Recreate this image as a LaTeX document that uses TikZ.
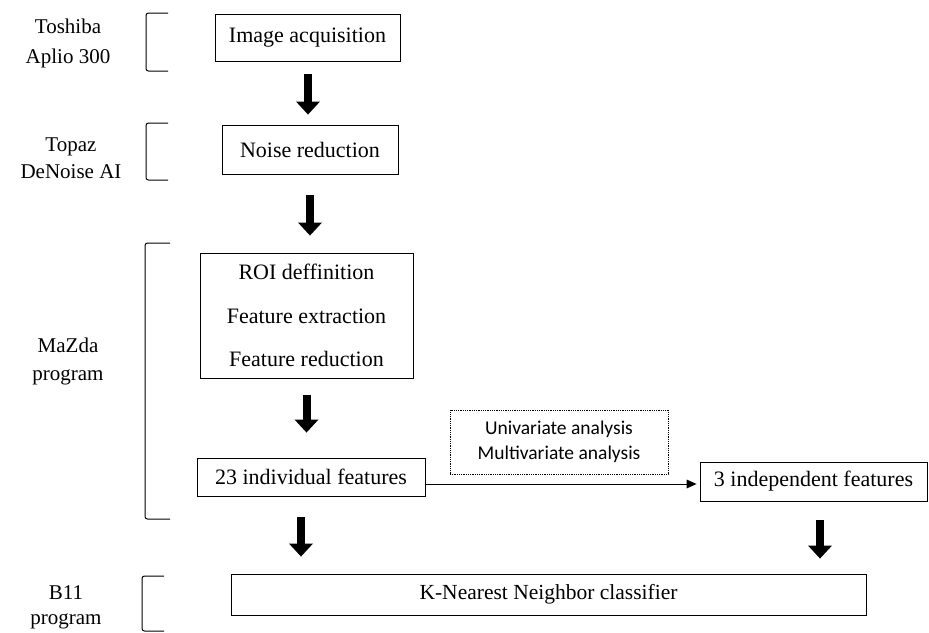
\documentclass[tikz,border=0pt]{standalone}
\usepackage{fontspec}
\setmainfont{Liberation Serif}
\newfontfamily\analysisfont{Carlito}
\usetikzlibrary{arrows.meta}
\begin{document}
\begin{tikzpicture}[x=1pt,y=-1pt,
  stepbox/.style={draw, line width=0.9pt, inner sep=0pt, align=center,
    font=\fontsize{22}{26}\selectfont},
  toolname/.style={align=center, inner sep=0pt},
  bracket/.style={line width=1pt, rounded corners=2.5pt},
  blockarrow/.style={line width=8pt,
    -{Triangle[length=13pt,width=24pt,line width=0pt]}},
  flowarrow/.style={line width=0.9pt,
    -{Triangle[length=10pt,width=9pt,line width=0pt]}}
]
\useasboundingbox (0,0) rectangle (929,632);

% processing steps
\node[stepbox, minimum width=185pt, minimum height=47pt] (img) at (307.5,37.5) {Image acquisition};
\node[stepbox, minimum width=176pt, minimum height=49pt] (noise) at (310,149.5) {Noise reduction};
\node[stepbox, minimum width=213pt, minimum height=125pt,
  font=\fontsize{22}{43.5}\selectfont] (roi) at (306.5,315.5)
  {ROI deffinition\\Feature extraction\\Feature reduction};
\node[stepbox, minimum width=228pt, minimum height=38pt] (f23) at (311,477) {23 individual features};
\node[stepbox, minimum width=227pt, minimum height=39pt] (f3) at (813.5,481.5) {3 independent features};
\node[draw, densely dotted, line width=0.8pt, align=center, inner sep=0pt,
  minimum width=218pt, minimum height=64pt,
  font=\analysisfont\fontsize{19.5}{25}\selectfont] (stats) at (559,442)
  {Univariate analysis\\Multivariate analysis};
\node[stepbox, minimum width=635pt, minimum height=41pt,
  font=\fontsize{21.5}{26}\selectfont] (knn) at (548.5,594.5) {K-Nearest Neighbor classifier};

% software used at each stage
\node[toolname, font=\fontsize{21}{30}\selectfont] (toshiba) at (68,43) {Toshiba\\Aplio 300};
\node[toolname, font=\fontsize{21}{27}\selectfont] (topaz) at (71,158.5) {Topaz\\DeNoise AI};
\node[toolname, font=\fontsize{21}{28}\selectfont] (mazda) at (68,361) {MaZda\\program};
\node[toolname, font=\fontsize{21}{25}\selectfont] (b11) at (66,607.5) {B11\\program};

% brackets grouping the stages
\draw[bracket] (168,13) -- (146,13) -- (146,71) -- (168,71);
\draw[bracket] (168,123) -- (146,123) -- (146,180) -- (168,180);
\draw[bracket] (170,243) -- (145,243) -- (145,519) -- (170,519);
\draw[bracket] (164,576) -- (142,576) -- (142,631) -- (164,631);

% flow between the steps
\draw[blockarrow, shorten <=13pt, shorten >=10pt]
  ([xshift=0.5pt]img.south) -- ([xshift=0.5pt]img.south |- noise.north);
\draw[blockarrow, shorten <=21pt, shorten >=17pt]
  (noise.south) -- (noise.south |- roi.north);
\draw[blockarrow, shorten <=17pt, shorten >=25pt]
  (roi.south) -- (roi.south |- f23.north);
\draw[blockarrow, shorten <=21pt, shorten >=17pt]
  ([xshift=-10pt]f23.south) -- ([xshift=-10pt]f23.south |- knn.north);
\draw[blockarrow, shorten <=19pt, shorten >=15pt]
  ([xshift=6.5pt]f3.south) -- ([xshift=6.5pt]f3.south |- knn.north);
\draw[flowarrow, shorten >=3pt]
  ([yshift=-7pt]f23.east) -- ([yshift=-7pt]f23.east -| f3.west);
\end{tikzpicture}
\end{document}
